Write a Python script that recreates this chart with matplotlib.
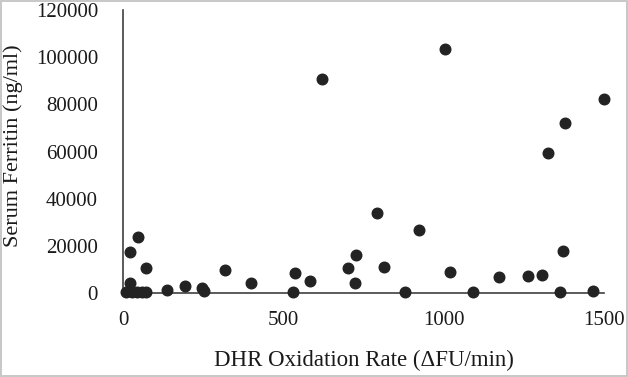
import matplotlib
matplotlib.use("Agg")
import matplotlib.pyplot as plt

# values
dhr_rate = [620, 45, 20, 70, 20, 9, 27, 43, 58, 72,
            137, 194, 246, 251, 318, 398, 529, 535, 583,
            702, 726, 724, 815, 791, 924, 880, 1005, 1019,
            1091, 1173, 1262, 1307, 1372, 1361, 1464,
            1325, 1377, 1499]
ferritin = [91000, 23700, 17300, 10400, 4300, 500, 500, 400, 500, 500,
            1100, 3000, 2000, 1000, 9900, 4400, 500, 8600, 5100,
            10400, 16100, 4400, 11100, 33900, 26700, 300, 103500, 9000,
            500, 6900, 7300, 7600, 17800, 300, 700,
            59200, 72100, 82400]

x_ticks = [0, 500, 1000, 1500]
y_ticks = [0, 20000, 40000, 60000, 80000, 100000, 120000]

plt.rcParams["font.family"] = ["Liberation Serif", "DejaVu Serif"]

fig = plt.figure(figsize=(6.28, 3.77), dpi=100)
fig.patch.set_edgecolor("#c8c8c8")
fig.patch.set_linewidth(1.5)
ax = fig.add_axes([0.196, 0.223, 0.766, 0.750])

ax.scatter(dhr_rate, ferritin, s=58, color="#232323", zorder=3, clip_on=False)

ax.set_xlim(0, 1500)
ax.set_ylim(0, 120000)
ax.set_xticks(x_ticks)
ax.set_yticks(y_ticks)

for side in ["top", "right"]:
    ax.spines[side].set_visible(False)
for side in ["left", "bottom"]:
    ax.spines[side].set_color("#404040")
    ax.spines[side].set_linewidth(1.2)

ax.tick_params(axis="both", length=0, labelsize=15, colors="#1a1a1a")
ax.tick_params(axis="y", pad=18)
ax.tick_params(axis="x", pad=13)

ax.set_xlabel("DHR Oxidation Rate (\u0394FU/min)", fontsize=16.5, color="#1a1a1a")
ax.set_ylabel("Serum Ferritin (ng/ml)", fontsize=16, color="#1a1a1a")
ax.xaxis.set_label_coords(0.5, -0.20)
ax.yaxis.set_label_coords(-0.208, 0.52)

fig.savefig("out.png", dpi=100, edgecolor=fig.get_edgecolor())
